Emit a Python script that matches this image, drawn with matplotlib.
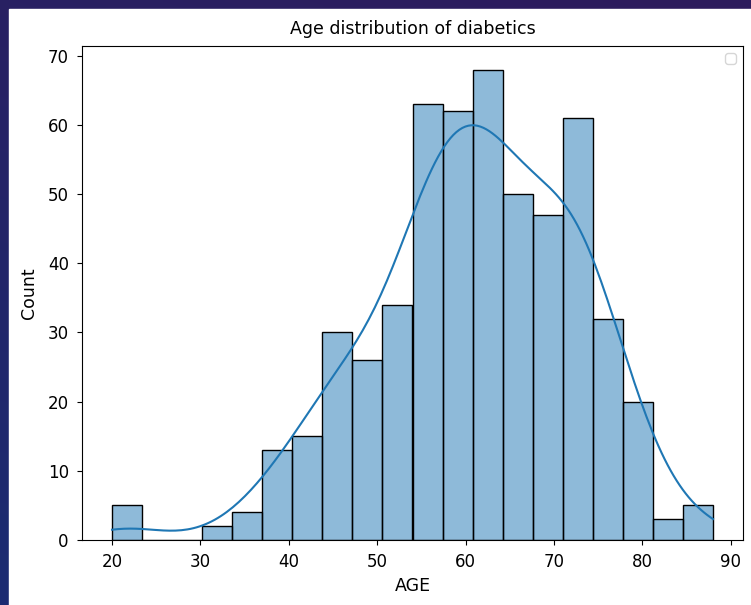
import numpy as np
import matplotlib
matplotlib.use("Agg")
import matplotlib.pyplot as plt
import seaborn as sns

# histogram of patient ages (20 bins from 20 to 88)
bin_edges = [20.0, 23.4, 26.8, 30.2, 33.6, 37.0, 40.4, 43.8, 47.2, 50.6, 54.0,
             57.4, 60.8, 64.2, 67.6, 71.0, 74.4, 77.8, 81.2, 84.6, 88.0]
counts = [5, 0, 0, 2, 4, 13, 15, 30, 26, 34, 63, 62, 68, 50, 47, 61, 32, 20, 3, 5]

centers = [(a + b) / 2 for a, b in zip(bin_edges[:-1], bin_edges[1:])]
ages = np.repeat(centers, counts)

fig = plt.figure(figsize=(7.51, 6.05), dpi=100)

# dark slide-style backdrop behind the white figure area
bg = fig.add_axes([0, 0, 1, 1], zorder=-10)
grad = np.linspace(0, 1, 256)
gx, gy = np.meshgrid(grad, grad)
top = np.array([0x2e, 0x1b, 0x5c]) / 255
bot = np.array([0x1b, 0x2c, 0x72]) / 255
mix = (gy * 0.7 + (1 - gx) * 0.3)[..., None]
bg.imshow(top * (1 - mix) + bot * mix, aspect="auto", extent=[0, 1, 0, 1], origin="upper")
bg.add_patch(plt.Rectangle((9 / 751, 0), 1, 1 - 9 / 605, color="white", transform=bg.transAxes))
bg.set_xlim(0, 1)
bg.set_ylim(0, 1)
bg.axis("off")

ax = fig.add_axes([82 / 751, 65 / 605, 661 / 751, 494 / 605])
sns.histplot(x=ages, bins=bin_edges, kde=True, ax=ax,
             kde_kws={"bw_adjust": 1.3, "cut": 0.6, "clip": (20, 88)})
ax.set_title("Age distribution of diabetics", fontsize=12.5, pad=9)
ax.set_xlabel("AGE", fontsize=12.5, labelpad=4)
ax.set_ylabel("Count", fontsize=12.5, labelpad=7)
ax.tick_params(labelsize=12, pad=6)
ax.legend(handles=[])

fig.savefig("out.png", dpi=100)
